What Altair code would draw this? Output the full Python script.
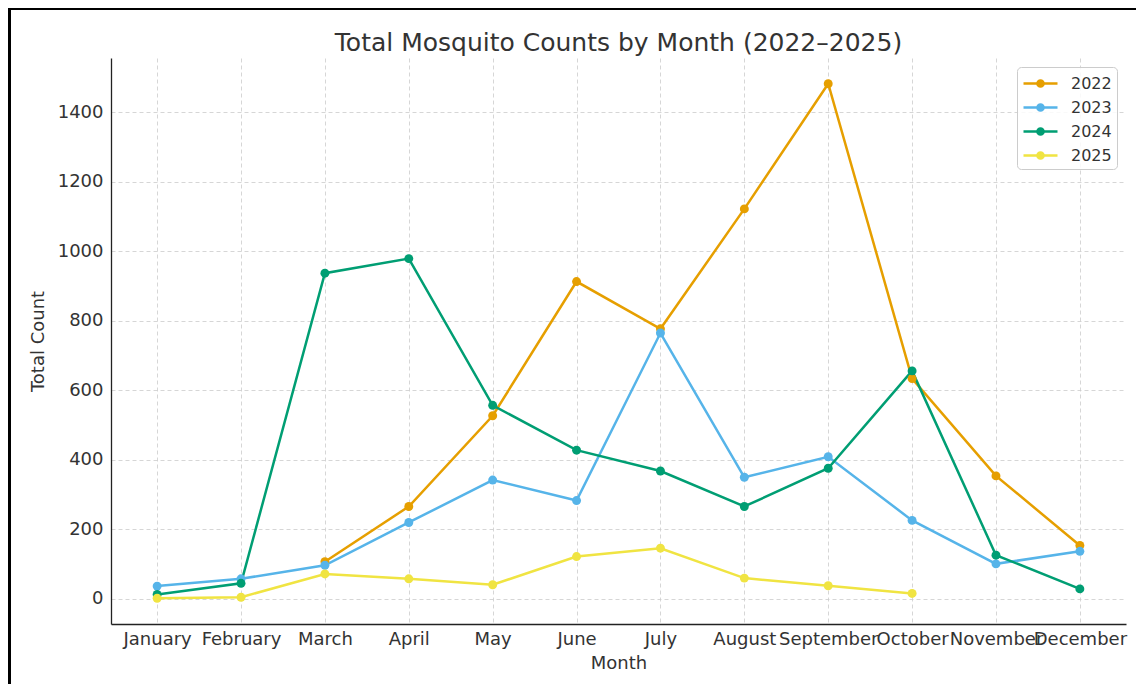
import altair as alt
import pandas as pd

months = ["January", "February", "March", "April", "May", "June", "July",
          "August", "September", "October", "November", "December"]
years = ["2022", "2023", "2024", "2025"]
counts_2022 = [None, None, 107, 266, 527, 913, 777, 1122, 1482, 634, 354, 154]
counts_2023 = [37, 58, 97, 220, 342, 283, 765, 350, 409, 226, 101, 137]
counts_2024 = [13, 45, 937, 979, 557, 428, 368, 266, 376, 656, 126, 29]
counts_2025 = [2, 5, 72, 58, 41, 122, 146, 60, 38, 16, None, None]
colors = ["#E69F00", "#56B4E9", "#009E73", "#F0E442"]
y_ticks = [0, 200, 400, 600, 800, 1000, 1200, 1400]

rows = []
for yr, vals in zip(years, [counts_2022, counts_2023, counts_2024, counts_2025]):
    for m, v in zip(months, vals):
        if v is not None:
            rows.append({"Month": m, "Year": yr, "Count": v})
df = pd.DataFrame(rows)

FONT = "DejaVu Sans"
TXT = "#333333"

color_scale = alt.Scale(domain=years, range=colors)

x_enc = alt.X(
    "Month:O", sort=months,
    scale=alt.Scale(type="point", padding=0.55),
    axis=alt.Axis(title="Month", labelAngle=0, labelPadding=6, titlePadding=6,
                  labelOverlap=False, labelBound=False, grid=True),
)
y_enc = alt.Y(
    "Count:Q",
    scale=alt.Scale(domain=[-72, 1556], nice=False, zero=False),
    axis=alt.Axis(title="Total Count", values=y_ticks, labelPadding=8, titlePadding=10,
                  format="d", grid=True),
)

legend_symbol = ("M-1.7,0H1.7"
                 "M0.31,0A0.31,0.31,0,1,1,-0.31,0A0.31,0.31,0,1,1,0.31,0Z")

legend = alt.Legend(
    title=None, orient="top-right", offset=9,
    symbolType=legend_symbol, symbolSize=400, symbolOffset=7, labelOffset=19,
    symbolStrokeWidth=2.5,
    padding=5, rowPadding=4,
    fillColor="rgba(255,255,255,0.85)", strokeColor="#cccccc", cornerRadius=4,
    labelFont=FONT, labelFontSize=16, labelColor=TXT,
)

lines = alt.Chart(df).mark_line(strokeWidth=2.5).encode(
    x=x_enc, y=y_enc,
    color=alt.Color("Year:N", scale=color_scale, legend=legend),
)
points = alt.Chart(df).mark_circle(size=80, opacity=1).encode(
    x=x_enc, y=y_enc,
    color=alt.Color("Year:N", scale=color_scale, legend=legend),
)

frame = alt.Chart(df).mark_rect(fill=None, stroke="black", strokeWidth=3.5).encode(
    x=alt.value(-102), x2=alt.value(1200), y=alt.value(-50), y2=alt.value(800)
)

chart = alt.layer(lines, points, frame).properties(
    width=1015, height=566,
    background="white",
    autosize=alt.AutoSizeParams(type="none"),
    padding={"left": 103, "top": 50, "right": 10, "bottom": 60},
    title=alt.TitleParams(
        "Total Mosquito Counts by Month (2022–2025)",
        font=FONT, fontSize=25, fontWeight="normal", color=TXT,
        anchor="middle", frame="group", baseline="alphabetic", offset=-70,
    ),
).configure_view(stroke=None).configure_axis(
    labelFont=FONT, labelFontSize=18, labelColor=TXT,
    titleFont=FONT, titleFontSize=18, titleColor=TXT, titleFontWeight="normal",
    domainColor="#222222", domainWidth=1.3,
    ticks=False, tickSize=0,
    gridColor="#cccccc", gridDash=[4, 3], gridWidth=0.8,
)

chart.save("out.html", embed_options={"renderer": "svg", "actions": False})
